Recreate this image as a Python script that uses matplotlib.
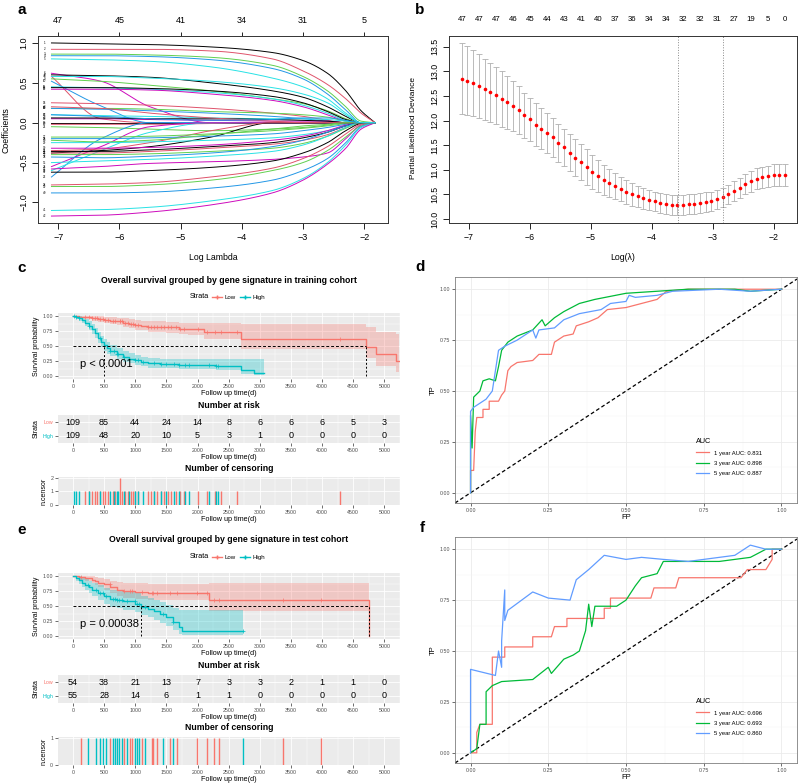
import numpy as np
import matplotlib
matplotlib.use('Agg')
import matplotlib.pyplot as plt
from matplotlib.lines import Line2D

plt.rcParams['font.family'] = ['Liberation Sans', 'DejaVu Sans']

# ------------------------------------------------------------------ data
# Panel a: LASSO coefficient paths, values read at these log-lambda knots
a_knots = [-7.11, -6.3, -5.5, -4.5, -3.5, -3.0, -2.6, -2.3, -2.05, -1.82]
a_paths = [
    [1.00, 0.99, 0.98, 0.95, 0.88, 0.78, 0.62, 0.40, 0.15, 0.00],
    [0.92, 0.92, 0.92, 0.90, 0.80, 0.65, 0.48, 0.30, 0.12, 0.00],
    [0.86, 0.86, 0.85, 0.82, 0.72, 0.58, 0.40, 0.20, 0.02, 0.00],
    [0.84, 0.84, 0.83, 0.79, 0.68, 0.55, 0.36, 0.16, 0.00, 0.00],
    [0.80, 0.79, 0.77, 0.70, 0.56, 0.45, 0.30, 0.12, 0.00, 0.00],
    [0.62, 0.52, 0.20, 0.00, 0.00, 0.00, 0.00, 0.00, 0.00, 0.00],
    [0.60, 0.59, 0.57, 0.50, 0.40, 0.32, 0.20, 0.08, 0.00, 0.00],
    [0.58, 0.05, 0.00, 0.00, 0.00, 0.00, 0.00, 0.00, 0.00, 0.00],
    [0.55, 0.52, 0.47, 0.40, 0.30, 0.24, 0.15, 0.05, 0.00, 0.00],
    [0.52, 0.21, 0.00, 0.00, 0.00, 0.00, 0.00, 0.00, 0.00, 0.00],
    [0.45, 0.44, 0.42, 0.38, 0.30, 0.22, 0.12, 0.03, 0.00, 0.00],
    [0.42, 0.42, 0.41, 0.36, 0.28, 0.20, 0.10, 0.02, 0.00, 0.00],
    [0.44, 0.44, 0.43, 0.40, 0.33, 0.25, 0.14, 0.04, 0.00, 0.00],
    [0.25, 0.24, 0.22, 0.18, 0.12, 0.08, 0.03, 0.00, 0.00, 0.00],
    [0.18, 0.18, 0.17, 0.14, 0.12, 0.10, 0.07, 0.02, 0.00, 0.00],
    [0.18, 0.17, 0.15, 0.12, 0.08, 0.05, 0.02, 0.00, 0.00, 0.00],
    [0.10, 0.09, 0.08, 0.06, 0.05, 0.05, 0.04, 0.02, 0.00, 0.00],
    [0.05, 0.05, 0.04, 0.03, 0.02, 0.02, 0.02, 0.00, 0.00, 0.00],
    [0.00, 0.00, 0.00, 0.00, 0.00, 0.00, 0.00, 0.00, 0.00, 0.00],
    [-0.02, -0.02, -0.02, -0.01, 0.00, 0.00, 0.00, 0.00, 0.00, 0.00],
    [-0.05, -0.06, -0.08, -0.10, -0.08, -0.06, -0.03, 0.00, 0.00, 0.00],
    [-0.68, -0.20, 0.00, 0.00, 0.00, 0.00, 0.00, 0.00, 0.00, 0.00],
    [-0.60, -0.35, -0.12, 0.00, 0.00, 0.00, 0.00, 0.00, 0.00, 0.00],
    [-0.55, -0.30, -0.05, 0.00, 0.00, 0.00, 0.00, 0.00, 0.00, 0.00],
    [-0.38, -0.35, -0.30, -0.18, 0.00, 0.00, 0.00, 0.00, 0.00, 0.00],
    [-0.35, -0.33, -0.25, -0.10, 0.00, 0.00, 0.00, 0.00, 0.00, 0.00],
    [-0.18, -0.18, -0.17, -0.14, -0.10, -0.07, -0.04, -0.01, 0.00, 0.00],
    [-0.20, -0.20, -0.19, -0.17, -0.14, -0.10, -0.06, -0.02, 0.00, 0.00],
    [-0.25, -0.25, -0.24, -0.22, -0.19, -0.15, -0.10, -0.04, 0.00, 0.00],
    [-0.32, -0.32, -0.31, -0.28, -0.22, -0.17, -0.10, -0.03, 0.00, 0.00],
    [-0.36, -0.36, -0.34, -0.30, -0.25, -0.19, -0.12, -0.04, 0.00, 0.00],
    [-0.38, -0.38, -0.36, -0.32, -0.27, -0.22, -0.15, -0.06, 0.00, 0.00],
    [-0.40, -0.40, -0.39, -0.36, -0.32, -0.26, -0.17, -0.07, 0.00, 0.00],
    [-0.43, -0.44, -0.42, -0.38, -0.30, -0.22, -0.12, -0.04, 0.00, 0.00],
    [-0.50, -0.48, -0.46, -0.42, -0.36, -0.28, -0.17, -0.06, 0.00, 0.00],
    [-0.58, -0.55, -0.51, -0.49, -0.46, -0.43, -0.38, -0.20, -0.03, 0.00],
    [-0.62, -0.62, -0.60, -0.56, -0.48, -0.38, -0.25, -0.10, -0.01, 0.00],
    [-0.78, -0.77, -0.75, -0.68, -0.57, -0.45, -0.30, -0.14, -0.02, 0.00],
    [-0.80, -0.80, -0.78, -0.72, -0.60, -0.50, -0.35, -0.18, -0.04, 0.00],
    [-0.88, -0.88, -0.87, -0.82, -0.72, -0.60, -0.45, -0.25, -0.05, 0.00],
    [-1.10, -1.09, -1.06, -0.98, -0.85, -0.70, -0.50, -0.28, -0.06, 0.00],
    [-1.17, -1.16, -1.12, -1.03, -0.88, -0.72, -0.52, -0.32, -0.08, 0.00],
    [0.06, 0.06, 0.05, 0.05, 0.04, 0.03, 0.02, 0.00, 0.00, 0.00],
    [0.20, 0.18, 0.12, 0.06, 0.02, 0.00, 0.00, 0.00, 0.00, 0.00],
    [-0.22, -0.24, -0.22, -0.15, -0.08, -0.04, -0.02, 0.00, 0.00, 0.00],
    [0.10, 0.08, 0.05, 0.03, 0.04, 0.06, 0.06, 0.03, 0.00, 0.00],
    [0.58, 0.58, 0.56, 0.52, 0.44, 0.36, 0.25, 0.10, 0.00, 0.00],
]
a_top_ticks = [-7, -6, -5, -4, -3, -2]
a_top_labels = ['47', '45', '41', '34', '31', '5']
r_palette = ['black', '#DF536B', '#61D04F', '#2297E6', '#28E2E5', '#CD0BBC']

# Panel b: cross-validation deviance
b_loglam = np.linspace(-7.11, -1.815, 58)
b_mean = [12.85, 12.81, 12.76, 12.71, 12.64, 12.58, 12.52, 12.44, 12.37, 12.29,
          12.21, 12.11, 12.03, 11.92, 11.84, 11.75, 11.66, 11.55, 11.46, 11.35,
          11.25, 11.16, 11.06, 10.96, 10.87, 10.79, 10.73, 10.67, 10.61, 10.55,
          10.50, 10.46, 10.42, 10.39, 10.36, 10.33, 10.31, 10.29, 10.28, 10.29,
          10.30, 10.30, 10.32, 10.34, 10.36, 10.40, 10.44, 10.50, 10.57, 10.63,
          10.71, 10.77, 10.82, 10.85, 10.87, 10.89, 10.89, 10.89]
b_sd = [0.72, 0.70, 0.67, 0.65, 0.62, 0.60, 0.58, 0.56, 0.53, 0.51, 0.49, 0.46, 0.44,
        0.43, 0.42, 0.41, 0.40, 0.39, 0.38, 0.37, 0.37, 0.36, 0.36, 0.35,
        0.33, 0.31, 0.29, 0.27, 0.25, 0.24, 0.23, 0.22, 0.21, 0.20,
        0.20, 0.20, 0.20, 0.20, 0.20, 0.20, 0.20, 0.20, 0.20, 0.20, 0.20, 0.20,
        0.20, 0.20, 0.20, 0.20, 0.20, 0.21, 0.21, 0.21, 0.21, 0.22, 0.22, 0.22]
b_top_labels = ['47', '47', '47', '46', '45', '44', '43', '41', '40', '37',
                '36', '34', '34', '32', '32', '31', '27', '19', '5', '0']
b_lambda_min, b_lambda_1se = -3.57, -2.83

# Panel c: KM training cohort
c_low_time = [0, 100, 200, 300, 400, 500, 600, 700, 800, 900, 1000, 1100, 1200, 1500, 1700, 1850, 2100, 2700, 4700, 4860, 5180, 5240]
c_low_surv = [1.0, 0.99, 0.98, 0.96, 0.95, 0.93, 0.92, 0.91, 0.89, 0.87, 0.85, 0.84, 0.82, 0.81, 0.79, 0.78, 0.73, 0.62, 0.49, 0.36, 0.25, 0.25]
c_low_lo = [1.0, 0.97, 0.95, 0.92, 0.90, 0.88, 0.86, 0.85, 0.82, 0.80, 0.77, 0.76, 0.74, 0.72, 0.70, 0.68, 0.62, 0.45, 0.30, 0.17, 0.07, 0.07]
c_low_hi = [1.0, 1.0, 1.0, 1.0, 1.0, 0.98, 0.98, 0.97, 0.96, 0.95, 0.93, 0.92, 0.91, 0.90, 0.89, 0.89, 0.88, 0.87, 0.82, 0.74, 0.70, 0.70]
c_high_time = [0, 50, 100, 150, 200, 250, 300, 350, 400, 450, 500, 550, 600, 700, 800, 900, 1000, 1100, 1200, 1400, 1700, 2000, 2300, 2700, 2900, 3065]
c_high_surv = [1.0, 0.98, 0.96, 0.93, 0.89, 0.84, 0.78, 0.71, 0.64, 0.57, 0.51, 0.46, 0.42, 0.36, 0.32, 0.29, 0.26, 0.23, 0.21, 0.20, 0.19, 0.18, 0.17, 0.10, 0.05, 0.05]
c_high_lo = [1.0, 0.95, 0.92, 0.88, 0.83, 0.77, 0.70, 0.63, 0.55, 0.48, 0.42, 0.37, 0.33, 0.28, 0.24, 0.21, 0.19, 0.16, 0.14, 0.13, 0.12, 0.11, 0.10, 0.04, 0.01, 0.01]
c_high_hi = [1.0, 1.0, 1.0, 0.98, 0.95, 0.91, 0.86, 0.80, 0.74, 0.67, 0.61, 0.56, 0.52, 0.46, 0.41, 0.38, 0.35, 0.32, 0.30, 0.29, 0.29, 0.28, 0.28, 0.28, 0.28, 0.28]
c_cens_low = [200, 250, 300, 350, 380, 430, 480, 520, 560, 640, 680, 750, 750, 780, 830, 880, 930, 960,
              1000, 1040, 1210, 1250, 1300, 1350, 1420, 1460, 1520, 1570, 1650, 1720, 1790, 2010,
              2150, 2280, 2370, 2640, 4290]
c_cens_high = [15, 55, 100, 250, 440, 600, 660, 700, 720, 820, 900, 1000, 1050, 1120, 1300, 1420,
               1500, 1620, 1700, 1800, 1870, 2180, 2300, 2330]
c_medians = [4700, 500]
c_pval = 'p < 0.0001'
c_risk_low = [109, 85, 44, 24, 14, 8, 6, 6, 6, 5, 3]
c_risk_high = [109, 48, 20, 10, 5, 3, 1, 0, 0, 0, 0]

# Panel e: KM test cohort
e_low_time = [0, 100, 200, 300, 350, 400, 500, 600, 700, 800, 1000, 1200, 2180, 4760]
e_low_surv = [1.0, 0.98, 0.96, 0.94, 0.92, 0.89, 0.86, 0.81, 0.77, 0.75, 0.74, 0.72, 0.60, 0.0]
e_low_lo = [1.0, 0.94, 0.91, 0.88, 0.85, 0.81, 0.77, 0.71, 0.66, 0.64, 0.62, 0.60, 0.42, 0.42]
e_low_hi = [1.0, 1.0, 1.0, 1.0, 0.99, 0.97, 0.95, 0.92, 0.90, 0.88, 0.88, 0.87, 0.89, 0.89]
e_high_time = [0, 50, 100, 150, 200, 250, 300, 400, 500, 600, 700, 800, 1000, 1090, 1200, 1300, 1400, 1500, 1600, 1700, 1750, 2730]
e_high_surv = [1.0, 0.96, 0.93, 0.89, 0.85, 0.81, 0.77, 0.72, 0.66, 0.62, 0.60, 0.58, 0.54, 0.49, 0.45, 0.41, 0.36, 0.31, 0.24, 0.15, 0.08, 0.08]
e_high_lo = [1.0, 0.91, 0.86, 0.81, 0.76, 0.71, 0.66, 0.60, 0.53, 0.49, 0.46, 0.44, 0.40, 0.35, 0.31, 0.26, 0.21, 0.16, 0.10, 0.04, 0.02, 0.02]
e_high_hi = [1.0, 1.0, 1.0, 0.97, 0.95, 0.92, 0.89, 0.85, 0.80, 0.77, 0.75, 0.74, 0.71, 0.67, 0.64, 0.60, 0.56, 0.52, 0.47, 0.44, 0.44, 0.44]
e_cens_low = [135, 592, 817, 914, 941, 1103, 1264, 1290, 1344, 1560, 1667, 1990, 2151, 2259, 2339, 3377, 3979]
e_cens_high = [242, 377, 430, 484, 538, 635, 672, 700, 742, 780, 861, 995, 1022, 1065, 1156, 1441, 1602, 2732]
e_medians = [4760, 1090]
e_pval = 'p = 0.00038'
e_risk_low = [54, 38, 21, 13, 7, 3, 3, 2, 1, 1, 0]
e_risk_high = [55, 28, 14, 6, 1, 1, 0, 0, 0, 0, 0]
risk_times = [0, 500, 1000, 1500, 2000, 2500, 3000, 3500, 4000, 4500, 5000]

# Panel d: ROC training
d_fp1 = [0, 0, 0.01, 0.015, 0.02, 0.04, 0.04, 0.06, 0.06, 0.09, 0.10, 0.11, 0.12, 0.13, 0.15, 0.20, 0.22, 0.26, 0.27, 0.30, 0.33, 0.34, 0.38, 0.41, 0.44, 0.50, 0.55, 0.60, 0.63, 0.70, 1.0]
d_tp1 = [0, 0.11, 0.11, 0.30, 0.37, 0.37, 0.41, 0.41, 0.45, 0.45, 0.48, 0.50, 0.60, 0.62, 0.64, 0.65, 0.68, 0.68, 0.74, 0.77, 0.78, 0.82, 0.84, 0.86, 0.90, 0.91, 0.93, 0.95, 0.99, 1.0, 1.0]
d_fp3 = [0, 0, 0.005, 0.01, 0.03, 0.04, 0.06, 0.08, 0.09, 0.10, 0.12, 0.15, 0.20, 0.23, 0.24, 0.27, 0.30, 0.35, 0.40, 0.50, 0.60, 0.70, 0.85, 0.90, 1.0]
d_tp3 = [0, 0.38, 0.22, 0.47, 0.50, 0.55, 0.56, 0.55, 0.62, 0.70, 0.74, 0.77, 0.80, 0.85, 0.82, 0.86, 0.89, 0.93, 0.95, 0.98, 0.99, 1.0, 1.0, 0.99, 1.0]
d_fp5 = [0, 0, 0.01, 0.05, 0.07, 0.08, 0.09, 0.11, 0.15, 0.20, 0.21, 0.22, 0.27, 0.30, 0.35, 0.42, 0.45, 0.50, 0.51, 0.53, 0.60, 0.65, 0.80, 0.90, 1.0]
d_tp5 = [0, 0.40, 0.42, 0.46, 0.50, 0.60, 0.70, 0.72, 0.75, 0.80, 0.76, 0.80, 0.81, 0.85, 0.88, 0.90, 0.93, 0.94, 0.97, 0.96, 0.97, 0.99, 1.0, 0.99, 1.0]
d_labels = ['1 year AUC: 0.831', '3 year AUC: 0.898', '5 year AUC: 0.887']

# Panel f: ROC test
f_fp1 = [0, 0.02, 0.02, 0.03, 0.07, 0.07, 0.11, 0.11, 0.20, 0.20, 0.26, 0.27, 0.31, 0.31, 0.43, 0.43, 0.45, 0.45, 0.58, 0.59, 0.66, 0.67, 0.87, 0.89, 0.95, 0.97, 0.97, 1.0]
f_tp1 = [0, 0.0, 0.10, 0.14, 0.14, 0.47, 0.47, 0.52, 0.52, 0.57, 0.57, 0.62, 0.62, 0.66, 0.66, 0.71, 0.71, 0.76, 0.76, 0.81, 0.81, 0.86, 0.86, 0.90, 0.90, 0.95, 1.0, 1.0]
f_fp3 = [0, 0.02, 0.03, 0.05, 0.05, 0.07, 0.10, 0.20, 0.25, 0.26, 0.30, 0.33, 0.35, 0.37, 0.38, 0.39, 0.40, 0.47, 0.50, 0.53, 0.55, 0.60, 0.62, 0.70, 0.80, 0.90, 0.95, 1.0]
f_tp3 = [0, 0.02, 0.14, 0.14, 0.30, 0.33, 0.35, 0.36, 0.42, 0.39, 0.46, 0.48, 0.50, 0.60, 0.73, 0.62, 0.72, 0.72, 0.75, 0.82, 0.86, 0.88, 0.94, 0.94, 0.94, 0.96, 1.0, 1.0]
f_fp5 = [0, 0, 0.08, 0.09, 0.10, 0.10, 0.11, 0.11, 0.12, 0.20, 0.25, 0.32, 0.34, 0.38, 0.43, 0.50, 0.55, 0.62, 0.70, 0.75, 0.85, 0.90, 0.95, 1.0]
f_tp5 = [0, 0.41, 0.38, 0.50, 0.42, 0.55, 0.80, 0.65, 0.70, 0.79, 0.76, 0.75, 0.85, 0.90, 0.97, 0.95, 0.96, 0.95, 0.94, 0.95, 0.97, 1.02, 1.0, 1.0]
f_labels = ['1 year AUC: 0.696', '3 year AUC: 0.693', '5 year AUC: 0.860']

# ------------------------------------------------------------------ figure
W, H = 800, 783
fig = plt.figure(figsize=(8, 7.83), dpi=100)
fig.patch.set_facecolor('white')


def px_axes(l, t, r, b):
    return fig.add_axes([l / W, 1 - b / H, (r - l) / W, (b - t) / H])


def fx(x):
    return x / W


def fy(y):
    return 1 - y / H


def pchip(x, y, xn):
    """Shape-preserving cubic through the read knots (smooth drawing only)."""
    x = np.asarray(x, float)
    y = np.asarray(y, float)
    h = np.diff(x)
    d = np.diff(y) / h
    m = np.zeros_like(y)
    for k in range(1, len(y) - 1):
        if d[k - 1] * d[k] > 0:
            w1 = 2 * h[k] + h[k - 1]
            w2 = h[k] + 2 * h[k - 1]
            m[k] = (w1 + w2) / (w1 / d[k - 1] + w2 / d[k])
    m[0] = d[0]
    m[-1] = d[-1]
    idx = np.clip(np.searchsorted(x, xn, side='right') - 1, 0, len(x) - 2)
    t = (xn - x[idx]) / h[idx]
    h00 = 2 * t ** 3 - 3 * t ** 2 + 1
    h10 = t ** 3 - 2 * t ** 2 + t
    h01 = -2 * t ** 3 + 3 * t ** 2
    h11 = t ** 3 - t ** 2
    return h00 * y[idx] + h10 * h[idx] * m[idx] + h01 * y[idx + 1] + h11 * h[idx] * m[idx + 1]


RED = '#F8766D'
CYAN = '#00BFC4'
GREEN = '#00BA38'
BLUE = '#619CFF'

for lab, (x, y) in zip('abcdef', [(22, 10), (420, 10), (22, 268), (420, 267), (22, 530), (422, 528)]):
    fig.text(fx(x), fy(y), lab, fontsize=11, fontweight='bold', ha='center', va='center')

# ---------------- panel a
ax = px_axes(38, 36, 388, 223)
xs = np.linspace(a_knots[0], a_knots[-1], 300)
for i, path in enumerate(a_paths):
    ax.plot(xs, pchip(a_knots, path, xs), color=r_palette[i % 6], lw=0.7)
    ax.text(-7.22, path[0], str(i + 1), fontsize=2.2, ha='center', va='center')
ax.set_xlim(-7.33, -1.61)
ax.set_ylim(-1.257, 1.087)
ax.set_xticks([-7, -6, -5, -4, -3, -2])
ax.set_xticklabels(['\u22127', '\u22126', '\u22125', '\u22124', '\u22123', '\u22122'])
ax.set_yticks([-1.0, -0.5, 0.0, 0.5, 1.0])
ax.set_yticklabels(['\u22121.0', '\u22120.5', '0.0', '0.5', '1.0'], rotation=90, va='center')
ax.tick_params(length=4, width=0.6, labelsize=6.5, pad=3)
for s in ax.spines.values():
    s.set_linewidth(0.7)
    s.set_color('#333333')
top = ax.secondary_xaxis('top')
top.set_xticks(a_top_ticks)
top.set_xticklabels(a_top_labels)
top.tick_params(length=3, width=0.6, labelsize=6.5, pad=5)
top.spines['top'].set_visible(False)
fig.text(fx(213), fy(258), 'Log Lambda', fontsize=6.3, ha='center', va='center')
fig.text(fx(6), fy(130), 'Coefficients', fontsize=6.3, rotation=90, ha='center', va='center')

# ---------------- panel b
bx = px_axes(449, 36, 797, 223)
bx.errorbar(b_loglam, b_mean, yerr=b_sd, fmt='none', ecolor='#B0B0B0', elinewidth=0.6,
            capsize=2.3, capthick=0.6)
bx.plot(b_loglam, b_mean, 'o', color='red', ms=2.6, mec='none')
bx.axvline(b_lambda_min, color='#888888', ls=':', lw=0.7)
bx.axvline(b_lambda_1se, color='#888888', ls=':', lw=0.7)
bx.set_xlim(-7.32, -1.62)
bx.set_ylim(9.92, 13.72)
bx.set_xticks([-7, -6, -5, -4, -3, -2])
bx.set_xticklabels(['\u22127', '\u22126', '\u22125', '\u22124', '\u22123', '\u22122'])
bx.set_yticks([10.0, 10.5, 11.0, 11.5, 12.0, 12.5, 13.0, 13.5])
bx.set_yticklabels(['10.0', '10.5', '11.0', '11.5', '12.0', '12.5', '13.0', '13.5'], rotation=90, va='center')
bx.tick_params(length=4, width=0.6, labelsize=6.3, pad=3)
for s in bx.spines.values():
    s.set_linewidth(0.7)
    s.set_color('#333333')
btop = bx.secondary_xaxis('top')
btop.set_xticks(list(b_loglam[::3]))
btop.set_xticklabels(b_top_labels)
btop.tick_params(length=0, labelsize=5.6, pad=9)
btop.spines['top'].set_visible(False)
fig.text(fx(623), fy(257), 'Log(\u03bb)', fontsize=6.3, ha='center', va='center')
fig.text(fx(414), fy(128), 'Partial Likelihood Deviance', fontsize=6.0, rotation=90, ha='center', va='center')


# ---------------- ggplot helpers
def gg_style(a, xlim, ylim, yticks, yticklabels, ylabel, xlabel=True, minor_y=None):
    a.set_facecolor('#EBEBEB')
    for s in a.spines.values():
        s.set_visible(False)
    a.set_xlim(*xlim)
    a.set_ylim(*ylim)
    a.set_xticks(risk_times)
    a.set_xticklabels([str(t) for t in risk_times])
    a.set_xticks([250, 750, 1250, 1750, 2250, 2750, 3250, 3750, 4250, 4750, 5250], minor=True)
    a.set_yticks(yticks)
    a.set_yticklabels(yticklabels)
    if minor_y is not None:
        a.set_yticks(minor_y, minor=True)
    a.grid(True, which='major', color='white', lw=0.6)
    a.grid(True, which='minor', color='white', lw=0.3)
    a.set_axisbelow(True)
    a.tick_params(which='major', length=2, width=0.5, color='#333333', labelsize=3.8,
                  labelcolor='#4D4D4D', pad=1.5)
    a.tick_params(which='minor', length=0)
    a.set_ylabel(ylabel, fontsize=5, labelpad=2)
    if xlabel:
        a.set_xlabel('Follow up time(d)', fontsize=5.2, labelpad=0.5)


def draw_km(top_px, title, lt, ls, llo, lhi, ht, hs, hlo, hhi, cl, ch, medians, pval,
            risk_l, risk_h, cens_ylim, cens_yticks):
    fig.text(fx(229), fy(top_px), title, fontsize=6.3, fontweight='bold', ha='center', va='center')
    ly = top_px + 17
    fig.text(fx(190), fy(ly), 'Strata', fontsize=5.2, ha='left', va='center')
    handles = [Line2D([], [], color=RED, lw=1, marker='+', ms=3),
               Line2D([], [], color=CYAN, lw=1, marker='+', ms=3)]
    fig.legend(handles, ['Low', 'High'], ncol=2, loc='center left',
               bbox_to_anchor=(fx(212), fy(ly)), fontsize=4.4, frameon=False,
               handlelength=1.6, columnspacing=0.8, handletextpad=0.4, borderpad=0,
               borderaxespad=0)
    km = px_axes(58, top_px + 33, 400, top_px + 99)
    gg_style(km, (-240, 5240), (-0.05, 1.05), [0, 0.25, 0.5, 0.75, 1.0],
             ['0.00', '0.25', '0.50', '0.75', '1.00'], 'Survival probability',
             minor_y=[0.125, 0.375, 0.625, 0.875])
    for (t, s, lo, hi, col, cens) in [(lt, ls, llo, lhi, RED, cl), (ht, hs, hlo, hhi, CYAN, ch)]:
        km.fill_between(t, lo, hi, step='post', color=col, alpha=0.3, lw=0)
        km.step(t, s, where='post', color=col, lw=1.0)
        idx = np.searchsorted(t, cens, side='right') - 1
        km.plot(cens, np.array(s)[idx], '+', color=col, ms=2.5, mew=0.5)
    mmax = max(medians)
    km.plot([0, mmax], [0.5, 0.5], ls=(0, (3, 2)), color='black', lw=0.7)
    for m in medians:
        km.plot([m, m], [0, 0.5], ls=(0, (2, 2)), color='black', lw=0.7)
    km.text(120, 0.2, pval, fontsize=8, ha='left', va='center')
    fig.text(fx(229), fy(top_px + 126), 'Number at risk', fontsize=6.3, fontweight='bold',
             ha='center', va='center')
    rk = px_axes(58, top_px + 135, 400, top_px + 163)
    gg_style(rk, (-240, 5240), (0.45, 2.55), [1, 2], ['High', 'Low'], 'Strata')
    for tlab, col in zip(rk.get_yticklabels(), [CYAN, RED]):
        tlab.set_color(col)
    for t, n in zip(risk_times, risk_l):
        rk.text(t, 2, str(n), fontsize=6.5, ha='center', va='center')
    for t, n in zip(risk_times, risk_h):
        rk.text(t, 1, str(n), fontsize=6.5, ha='center', va='center')
    fig.text(fx(229), fy(top_px + 188), 'Number of censoring', fontsize=6.3, fontweight='bold',
             ha='center', va='center')
    cz = px_axes(58, top_px + 197, 400, top_px + 225)
    gg_style(cz, (-240, 5240), cens_ylim, cens_yticks, [str(v) for v in cens_yticks], 'n.censor')
    for cens, col in [(cl, RED), (ch, CYAN)]:
        tv, cnt = np.unique(cens, return_counts=True)
        cz.vlines(tv, 0, cnt, color=col, lw=1.0)


draw_km(280, 'Overall survival grouped by gene signature in training cohort',
        c_low_time, c_low_surv, c_low_lo, c_low_hi,
        c_high_time, c_high_surv, c_high_lo, c_high_hi,
        c_cens_low, c_cens_high, c_medians, c_pval, c_risk_low, c_risk_high,
        (0, 2.05), [0, 1, 2])
draw_km(540, 'Overall survival grouped by gene signature in test cohort',
        e_low_time, e_low_surv, e_low_lo, e_low_hi,
        e_high_time, e_high_surv, e_high_lo, e_high_hi,
        e_cens_low, e_cens_high, e_medians, e_pval, e_risk_low, e_risk_high,
        (0, 1.03), [0, 1])


# ---------------- ROC panels
def draw_roc(rect, curves, labels):
    r = px_axes(*rect)
    r.set_facecolor('white')
    for s in r.spines.values():
        s.set_color('#7F7F7F')
        s.set_linewidth(0.6)
    r.set_xlim(-0.05, 1.05)
    r.set_ylim(-0.05, 1.06)
    ticks = [0, 0.25, 0.5, 0.75, 1.0]
    tl = ['0.00', '0.25', '0.50', '0.75', '1.00']
    r.set_xticks(ticks)
    r.set_xticklabels(tl)
    r.set_yticks(ticks)
    r.set_yticklabels(tl)
    r.set_xticks([0.125, 0.375, 0.625, 0.875], minor=True)
    r.set_yticks([0.125, 0.375, 0.625, 0.875], minor=True)
    r.grid(True, which='major', color='#EBEBEB', lw=0.6)
    r.grid(True, which='minor', color='#F4F4F4', lw=0.3)
    r.set_axisbelow(True)
    r.tick_params(which='major', length=2, width=0.5, color='#333333', labelsize=3.8,
                  labelcolor='#4D4D4D', pad=1.5)
    r.tick_params(which='minor', length=0)
    r.set_xlabel('FP', fontsize=5.5, labelpad=1)
    r.set_ylabel('TP', fontsize=5.5, labelpad=2)
    r.axline((0, 0), (1, 1), color='black', ls=(0, (3, 2)), lw=0.9)
    handles = []
    for (fp, tp), col in zip(curves, [RED, GREEN, BLUE]):
        h, = r.plot(fp, tp, color=col, lw=0.9)
        handles.append(h)
    r.legend(handles, labels, title='AUC', loc='upper left', bbox_to_anchor=(0.69, 0.31),
             fontsize=4.2, title_fontsize=5.2, frameon=False, handlelength=2.2,
             labelspacing=0.9, alignment='left')


draw_roc((455, 277, 797, 503), [(d_fp1, d_tp1), (d_fp3, d_tp3), (d_fp5, d_tp5)], d_labels)
draw_roc((455, 537, 797, 763), [(f_fp1, f_tp1), (f_fp3, f_tp3), (f_fp5, f_tp5)], f_labels)

fig.savefig('out.png', dpi=100, facecolor='white')
